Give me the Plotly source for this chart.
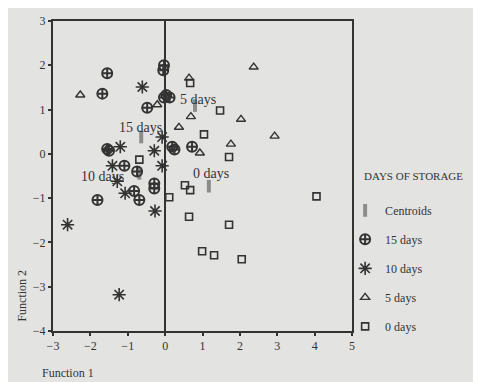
import plotly.graph_objects as go

# ---- data ----
d15_x = [-1.55, -1.68, -0.48, -0.03, -0.05, 0.03, 0.12, -0.03, -1.55, -1.50, 0.19, 0.25, 0.72, -1.09, -0.75, -0.83, -0.69, -1.81, -0.29, -0.29]
d15_y = [1.82, 1.36, 1.04, 2.00, 1.89, 1.33, 1.27, 1.27, 0.11, 0.07, 0.16, 0.10, 0.16, -0.27, -0.40, -0.84, -1.04, -1.04, -0.78, -0.67]

d10_x = [-0.61, -0.08, -0.29, -1.20, -0.08, -1.41, -1.28, -1.07, -0.27, -2.61, -1.23]
d10_y = [1.51, 0.38, 0.07, 0.16, -0.27, -0.27, -0.62, -0.89, -1.29, -1.60, -3.18]

d5_x = [-2.27, -0.21, 2.37, 0.64, 0.69, 0.37, 2.03, 2.93, 1.76, 0.93]
d5_y = [1.33, 1.11, 1.96, 1.71, 0.84, 0.60, 0.78, 0.40, 0.22, 0.02]

d0_x = [0.67, 1.47, 1.04, 1.71, -0.69, 0.11, 0.53, 0.67, 0.64, 1.71, 0.99, 1.31, 2.05, 4.05]
d0_y = [1.60, 0.98, 0.44, -0.07, -0.13, -0.98, -0.71, -0.82, -1.42, -1.60, -2.20, -2.29, -2.38, -0.96]

cent_x = [-0.64, -0.69, 0.80, 1.17]
cent_y = [0.38, -0.44, 1.09, -0.73]

label_text = ["15 days", "10 days", "5 days", "0 days"]
label_x = [-0.67, -1.68, 0.88, 1.22]
label_y = [0.60, -0.51, 1.22, -0.45]

x_ticks = [-3, -2, -1, 0, 1, 2, 3, 4, 5]
y_ticks = [-4, -3, -2, -1, 0, 1, 2, 3]

ink = "#333333"
bg = "#e3e3e1"
serif = "Liberation Serif"

fig = go.Figure()

fig.add_trace(go.Scatter(x=cent_x, y=cent_y, mode="markers", name="Centroids", legendgroup="c",
                         marker=dict(symbol="line-ns", size=9, line=dict(width=4, color="#8c8c8c"), color="#8c8c8c")))
fig.add_trace(go.Scatter(x=d15_x, y=d15_y, mode="markers", name="15 days", legendgroup="a",
                         marker=dict(symbol="circle-cross-open", size=10, line=dict(width=2, color=ink), color=ink)))
fig.add_trace(go.Scatter(x=d10_x, y=d10_y, mode="markers", name="10 days", legendgroup="b",
                         marker=dict(symbol="asterisk-open", size=11, line=dict(width=1.6, color=ink), color=ink)))
fig.add_trace(go.Scatter(x=d5_x, y=d5_y, mode="markers", name="5 days", legendgroup="d",
                         marker=dict(symbol="triangle-up-open", size=8, line=dict(width=1.4, color=ink), color=ink)))
fig.add_trace(go.Scatter(x=d0_x, y=d0_y, mode="markers", name="0 days", legendgroup="e",
                         marker=dict(symbol="square-open", size=7, line=dict(width=1.6, color=ink), color=ink)))

for t, x, y in zip(label_text, label_x, label_y):
    fig.add_annotation(x=x, y=y, text=t, showarrow=False, xref="x", yref="y",
                       font=dict(family=serif, size=14, color=ink))

fig.add_annotation(x=1.033, y=0.50, xref="paper", yref="paper", xanchor="left", yanchor="middle",
                   text="DAYS OF STORAGE", showarrow=False, font=dict(family=serif, size=11, color=ink))
fig.add_annotation(x=-0.104, y=0.114, xref="paper", yref="paper", xanchor="center", yanchor="middle",
                   text="Function 2", textangle=-90,
                   showarrow=False, font=dict(family=serif, size=12, color=ink))
fig.add_annotation(x=-0.043, y=-0.135, xref="paper", yref="paper", xanchor="left", yanchor="middle",
                   text="Function 1",
                   showarrow=False, font=dict(family=serif, size=12, color=ink))

axis_common = dict(showgrid=False, showline=True, mirror=True, linewidth=2, linecolor=ink,
                   ticks="outside", ticklen=3, tickcolor=ink, tickwidth=1.5,
                   tickfont=dict(family=serif, size=12, color=ink))

fig.update_xaxes(range=[-3, 5], tickvals=x_ticks, zeroline=True, zerolinecolor=ink, zerolinewidth=2, **axis_common)
fig.update_yaxes(range=[-4, 3], tickvals=y_ticks, zeroline=False, **axis_common)

fig.update_layout(
    width=481, height=382,
    margin=dict(l=45, r=137, t=6, b=59),
    paper_bgcolor=bg, plot_bgcolor=bg,
    showlegend=True,
    legend=dict(x=0.977, y=0.436, xanchor="left", yanchor="top", bgcolor="rgba(0,0,0,0)",
                font=dict(family=serif, size=12, color=ink), tracegroupgap=10,
                itemwidth=30),
)

fig.write_html("out.html")
